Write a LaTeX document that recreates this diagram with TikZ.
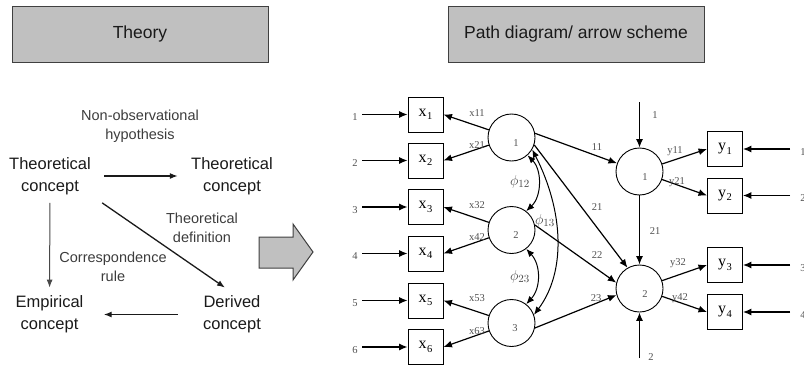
\documentclass[tikz,border=0pt]{standalone}
\usepackage{fontspec}
\setmainfont{Liberation Serif}
\newfontfamily\arialf{Liberation Sans}
\usetikzlibrary{arrows.meta}
\definecolor{boxgray}{HTML}{C0C0C0}
\definecolor{edgegray}{HTML}{404040}
\definecolor{lblgray}{HTML}{505050}
\definecolor{txt}{HTML}{1A1A1A}
\newcommand{\obsl}[2]{#1\kern0.3pt\raisebox{-3.5pt}{\fontsize{10.5}{10.5}\selectfont #2}}
\tikzset{
  titlebox/.style={draw=edgegray, line width=1pt, fill=boxgray, minimum width=256pt, minimum height=56pt, inner sep=0pt, font=\arialf\fontsize{17.5}{20}\selectfont, text=txt},
  concept/.style={font=\arialf\fontsize{16.5}{22}\selectfont, align=center, text width=86pt, inner xsep=11pt, inner ysep=8pt, text=txt},
  note/.style={font=\arialf\fontsize{14.5}{19}\selectfont, align=center, text=txt!85, inner sep=0pt},
  carr/.style={-{Latex[length=8pt,width=6pt]}, line width=1.3pt, draw=txt},
  obs/.style={draw, line width=0.9pt, minimum size=35pt, inner sep=0pt, font=\fontsize{16}{16}\selectfont},
  lat/.style={draw, circle, line width=0.9pt, minimum size=47pt, inner sep=0pt},
  parr/.style={-{Latex[length=8.5pt,width=7pt]}, line width=1.2pt},
  darr/.style={{Latex[length=8pt,width=6.5pt]}-{Latex[length=8pt,width=6.5pt]}, line width=1pt},
  sl/.style={font=\fontsize{10.5}{10.5}\selectfont, text=lblgray, inner sep=0pt},
  phil/.style={font=\fontsize{15}{15}\selectfont, text=lblgray!90!black, inner sep=0pt},
}
\begin{document}
\begin{tikzpicture}[x=1pt,y=-1pt]
\clip (0,0) rectangle (804,367);
\useasboundingbox (0,0) rectangle (804,367);
% titles
\node[titlebox] (theory) at (140,34) {Theory};
\node[titlebox] (path) at (576,34) {Path diagram/ arrow scheme};
% left part
\node[concept] (tc1) at (50,176) {Theoretical\\concept};
\node[concept] (tc2) at (232,176) {Theoretical\\concept};
\node[concept] (ec) at (49.5,314.5) {Empirical\\concept};
\node[concept] (dc) at (232,314.5) {Derived\\concept};
\node[note] (n1) at (140,126.5) {Non-observational\\hypothesis};
\node[note] (n2) at (202,227.5) {Theoretical\\definition};
\node[note] (n3) at (113,266.5) {Correspondence\\rule};
\draw[carr] (tc1) -- (tc2);
\draw[carr, line width=1pt, draw=txt!80] (tc1) -- (ec);
\draw[carr] ([xshift=-2pt]tc1.south east) -- ([xshift=-7pt]dc.north);
\draw[carr] (dc) -- (ec);
% big arrow
\draw[fill=boxgray, draw=edgegray, line width=1pt] (259,237) -- (293,237) -- (293,224) -- (313,252) -- (293,280) -- (293,268) -- (259,268) -- cycle;
% observed x
\foreach \i/\yy in {1/114.5,2/160.5,3/207,4/253.5,5/300.5,6/347}{
  \node[obs] (x\i) at (425.5,\yy) {\obsl{x}{\i}};
  \coordinate (dx\i) at (362,\yy);
  \node[sl] (ldx\i) at (355,\yy+3) {\i};
  \draw[parr] (dx\i) -- (x\i);
}
% latent ksi
\node[lat] (k1) at (511.5,137.5) {};
\node[lat] (k2) at (511.5,230) {};
\node[lat] (k3) at (511.5,323) {};
\node[sl] (lk1) at (516,143) {1};
\node[sl] (lk2) at (516,235) {2};
\node[sl] (lk3) at (515,328) {3};
% latent eta
\node[lat] (e1) at (639.5,171.5) {};
\node[lat] (e2) at (639.5,288.5) {};
\node[sl] (le1) at (645,177) {1};
\node[sl] (le2) at (645,294) {2};
% observed y
\foreach \i/\yy in {1/149,2/195.5,3/265,4/312}{
  \node[obs] (y\i) at (725,\yy) {\obsl{y}{\i}};
  \coordinate (dy\i) at (790,\yy);
  \node[sl] (ldy\i) at (803,\yy+3) {\i};
  \draw[parr] (dy\i) -- (y\i);
}
% x loadings
\draw[parr] (k1) -- (x1.east);
\draw[parr] (k1) -- (x2.east);
\draw[parr] (k2) -- (x3.east);
\draw[parr] (k2) -- (x4.east);
\draw[parr] (k3) -- (x5.east);
\draw[parr] (k3) -- (x6.east);
\node[sl] (lx11) at (477,113) {x11};
\node[sl] (lx21) at (477,145) {x21};
\node[sl] (lx32) at (477,205) {x32};
\node[sl] (lx42) at (477,237) {x42};
\node[sl] (lx53) at (477,298) {x53};
\node[sl] (lx63) at (477,331) {x63};
% y loadings
\draw[parr] (e1) -- (y1.west);
\draw[parr] (e1) -- (y2.west);
\draw[parr] (e2) -- (y3.west);
\draw[parr] (e2) -- (y4.west);
\node[sl] (ly11) at (675,151) {y11};
\node[sl] (ly21) at (677,182) {y21};
\node[sl] (ly32) at (678,263) {y32};
\node[sl] (ly42) at (680,298) {y42};
% zeta
\coordinate (z1) at (639.5,102);
\coordinate (z2) at (639.5,358);
\draw[parr] (z1) -- (e1);
\draw[parr] (z2) -- (e2);
\node[sl] (lz1) at (655,115) {1};
\node[sl] (lz2) at (651,357) {2};
% beta
\draw[parr] (e1) -- (e2);
\node[sl] (lb21) at (655,231) {21};
% gamma
\draw[parr] (k1.10) -- (e1);
\draw[parr] (k1.-18) -- (e2.120);
\draw[parr] (k2.12) -- (e2.166);
\draw[parr] (k3.-12) -- (e2.196);
\node[sl] (lg11) at (597,147) {11};
\node[sl] (lg21) at (597,207) {21};
\node[sl] (lg22) at (597,255) {22};
\node[sl] (lg23) at (596,298) {23};
% phi
\draw[darr] (k1.-48) .. controls (542,170) and (542,196) .. (k2.52);
\draw[darr] (k2.-52) .. controls (541,265) and (541,288) .. (k3.52);
\draw[darr] (k1.-30) .. controls (564,212) and (566,272) .. (k3.20);
\node[phil] (p12) at (520,182) {$\phi_{12}$};
\node[phil] (p23) at (520,277) {$\phi_{23}$};
\node[phil] (p13) at (545,221) {$\phi_{13}$};
\end{tikzpicture}
\end{document}
